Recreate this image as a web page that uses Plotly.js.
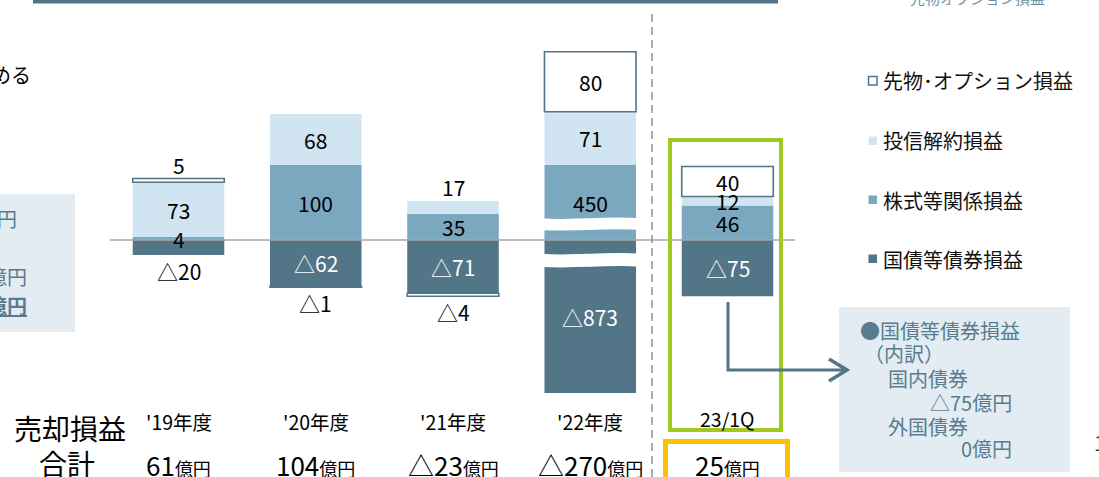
<!DOCTYPE html>
<html><head><meta charset="utf-8">
<script src="https://cdn.plot.ly/plotly-3.0.1.min.js"></script>
<style>html,body{margin:0;padding:0;background:#fff;overflow:hidden}#chart{width:1099px;height:477px}</style>
</head><body><div id="chart"></div>
<script>
// ---- data (億円) ----
const categories = ["'19年度", "'20年度", "'21年度", "'22年度", "23/1Q"];
const bondValues = [-20, -62, -71, -873, -75];     // 国債等債券損益
const stockValues = [4, 100, 35, 450, 46];         // 株式等関係損益
const fundValues = [73, 68, 17, 71, 12];           // 投信解約損益
const futuresValues = [5, -1, -4, 80, 40];         // 先物・オプション損益
const totalValues = [61, 104, -23, -270, 25];      // 売却損益合計
const seriesNames = ["国債等債券損益", "株式等関係損益", "投信解約損益", "先物・オプション損益"];
// '22年度 is drawn on a broken axis: heights as drawn in the picture
const brokenIndex = 3;
const stockDrawn22 = 100;
const bondDrawn22 = -204;
const bondBreakdownLines = ["●国債等債券損益", "（内訳）", "国内債券", "△75億円", "外国債券", "0億円"];

// ---- helpers ----
const W = 1099, H = 477;
const px = x => x / W, py = y => 1 - y / H;
const FONT = '"Noto Sans CJK JP", "Noto Sans", sans-serif';
const fmt = v => v < 0 ? '△' + (-v) : String(v);
const COL = {bond:'#527587', stock:'#7ba7bf', fund:'#d0e4f1', futLine:'#527587',
  green:'#a0c81e', orange:'#ffc000', box:'#e3ecf2', boxText:'#587c8e', dash:'#7d98a8', zero:'#a6a6a6'};

const xs = categories.map((_, i) => i);
const stockDrawn = stockValues.map((v, i) => i === brokenIndex ? stockDrawn22 : v);
const bondDrawn = bondValues.map((v, i) => i === brokenIndex ? bondDrawn22 : v);

const series = [
  {name: seriesNames[0], vals: bondValues, drawn: bondDrawn, fill: COL.bond, lw: 0, txt: '#ffffff'},
  {name: seriesNames[1], vals: stockValues, drawn: stockDrawn, fill: COL.stock, lw: 0, txt: '#000000'},
  {name: seriesNames[2], vals: fundValues, drawn: fundValues, fill: COL.fund, lw: 0, txt: '#000000'},
  {name: seriesNames[3], vals: futuresValues, drawn: futuresValues, fill: '#ffffff', lw: 1.6, txt: '#000000'}
];
const BARW = 0.667;
const traces = series.map(s => ({
  type: 'bar', name: s.name, x: xs, y: s.drawn, width: BARW,
  marker: {color: s.fill, line: {color: COL.futLine, width: s.lw}},
  hoverinfo: 'skip', showlegend: false
}));

const annotations = [];
const shapes = [];
const note = (x, y, text, size, color, xanchor, extra) => annotations.push(Object.assign({
  xref: 'paper', yref: 'paper', x: px(x), y: py(y), xanchor: xanchor || 'center', yanchor: 'middle',
  text, showarrow: false, font: {family: FONT, size, color}}, extra || {}));

// bar value labels
xs.forEach(i => {
  let lastPos = -1, lastNeg = -1;
  series.forEach((s, k) => { if (s.drawn[i] >= 0) lastPos = k; else lastNeg = k; });
  let pos = 0, neg = 0;
  series.forEach((s, k) => {
    const v = s.drawn[i];
    let y0, y1;
    if (v >= 0) { y0 = pos; y1 = pos + v; pos = y1; } else { y0 = neg; y1 = neg + v; neg = y1; }
    const outer = (v >= 0 ? lastPos : lastNeg) === k;
    const outside = outer && Math.abs(s.vals[i]) < 25;
    const a = {x: i, xref: 'x', yref: 'y', xanchor: 'center', text: fmt(s.vals[i]), showarrow: false,
      font: {family: FONT, size: 21, color: outside ? '#000' : s.txt}};
    if (!outside) { a.y = (y0 + y1) / 2; a.yanchor = 'middle'; }
    else if (v >= 0) { a.y = y1; a.yanchor = 'bottom'; a.yshift = -3; }
    else { a.y = y1; a.yanchor = 'top'; a.yshift = 1; }
    annotations.push(a);
  });
});

// broken-axis gaps on '22
function gap(cx, yt, yb) {
  const x0 = cx - 0.37, x1 = cx + 0.37, xa = x0 + (x1 - x0) / 3, xb = x0 + 2 * (x1 - x0) / 3, a = 3;
  return {type: 'path', xref: 'x', yref: 'y', layer: 'above', line: {width: 0}, fillcolor: '#ffffff',
    path: `M${x0},${yt} C${xa},${yt - a} ${xb},${yt + a} ${x1},${yt} L${x1},${yb} C${xb},${yb + a} ${xa},${yb - a} ${x0},${yb} Z`};
}
shapes.push(gap(brokenIndex, stockDrawn22 * 0.29, stockDrawn22 * 0.135));
shapes.push(gap(brokenIndex, bondDrawn22 * 0.09, bondDrawn22 * 0.175));

// zero line
shapes.push({type: 'line', xref: 'paper', yref: 'y', x0: px(110), x1: px(795), y0: 0, y1: 0, layer: 'above',
  line: {color: COL.zero, width: 1.5}});
// top rule
shapes.push({type: 'rect', xref: 'paper', yref: 'paper', x0: px(33), x1: px(778), y0: py(0), y1: py(3.5),
  fillcolor: COL.bond, line: {width: 0}});
// dashed separator
shapes.push({type: 'line', xref: 'paper', yref: 'paper', x0: px(652), x1: px(652), y0: py(14), y1: py(477),
  line: {color: COL.dash, width: 1.5, dash: '8px,5px'}});
// green and orange highlight boxes
shapes.push({type: 'rect', xref: 'paper', yref: 'paper', x0: px(670), x1: px(781), y0: py(140), y1: py(430),
  line: {color: COL.green, width: 4}});
shapes.push({type: 'rect', xref: 'paper', yref: 'paper', x0: px(665.5), x1: px(787.5), y0: py(441.5), y1: py(495),
  line: {color: COL.orange, width: 5}});
// left and right info boxes
shapes.push({type: 'rect', xref: 'paper', yref: 'paper', x0: px(-5), x1: px(75), y0: py(194), y1: py(332),
  fillcolor: COL.box, line: {width: 0}, layer: 'below'});
shapes.push({type: 'rect', xref: 'paper', yref: 'paper', x0: px(839), x1: px(1070), y0: py(307), y1: py(472),
  fillcolor: COL.box, line: {width: 0}, layer: 'below'});
// connector arrow
const P = (x, y) => `${px(x)},${py(y)}`;
shapes.push({type: 'path', xref: 'paper', yref: 'paper', path: `M${P(728, 302)} L${P(728, 370)} L${P(846, 370)}`,
  line: {color: COL.bond, width: 3}});
shapes.push({type: 'path', xref: 'paper', yref: 'paper', path: `M${P(829, 359)} L${P(847, 370)} L${P(829, 381)}`,
  line: {color: COL.bond, width: 3.5}});

// legend (manual)
const legY = [81, 141, 200, 259];
const legOrder = [3, 2, 1, 0];
legOrder.forEach((k, j) => {
  const s = series[k], y = legY[j];
  shapes.push({type: 'rect', xref: 'paper', yref: 'paper', x0: px(868.5), x1: px(877), y0: py(y - 4.5), y1: py(y + 4),
    fillcolor: s.fill, line: {color: s.lw ? COL.futLine : s.fill, width: s.lw ? 1.5 : 0}});
  note(881, y, s.name.replace('・', '･'), 20, '#111', 'left');
});

// category labels and totals
xs.forEach(i => {
  annotations.push({x: i, xref: 'x', yref: 'paper', y: py(i === 4 ? 418 : 421), xanchor: 'center', yanchor: 'middle',
    text: categories[i], showarrow: false, font: {family: FONT, size: 19.5, color: '#000'}});
  annotations.push({x: i, xref: 'x', yref: 'paper', y: py(464), xanchor: 'center', yanchor: 'middle',
    text: `${fmt(totalValues[i])}<span style="font-size:18px">億円</span>`, showarrow: false,
    font: {family: FONT, size: 26, color: '#000'}});
});
note(70, 428, '売却損益', 28, '#000');
note(67, 463, '合計', 28, '#000');

// right box text
const boxX = [858, 862, 886, 1014, 886, 1014];
const boxAnchor = ['left', 'left', 'left', 'right', 'left', 'right'];
const boxY = [330, 353, 378, 402, 426, 448];
bondBreakdownLines.forEach((t, j) => note(boxX[j], boxY[j], t, 20, COL.boxText, boxAnchor[j]));

// cropped slide fragments
note(33, 74, 'める', 20, '#000', 'right');
note(19, 218, '億円', 20, COL.boxText, 'right');
note(29, 276, '億円', 20, COL.boxText, 'right');
note(29, 305, '<b><u>億円</u></b>', 20, COL.boxText, 'right');
note(970, -3, '・先物オプション損益', 15, '#6f93a6', 'center');
note(1092, 442, '1', 20, '#444', 'left');

const layout = {
  width: W, height: H, margin: {l: 0, r: 0, t: 0, b: 0}, paper_bgcolor: '#fff', plot_bgcolor: 'rgba(0,0,0,0)',
  barmode: 'relative', showlegend: false,
  xaxis: {range: [-178.5 / 137.25, (W - 178.5) / 137.25], visible: false, fixedrange: true},
  yaxis: {range: [-(H - 240) / 0.75, 240 / 0.75], visible: false, fixedrange: true},
  shapes, annotations, font: {family: FONT}
};
Plotly.newPlot('chart', traces, layout, {staticPlot: true, displayModeBar: false});
</script></body></html>
